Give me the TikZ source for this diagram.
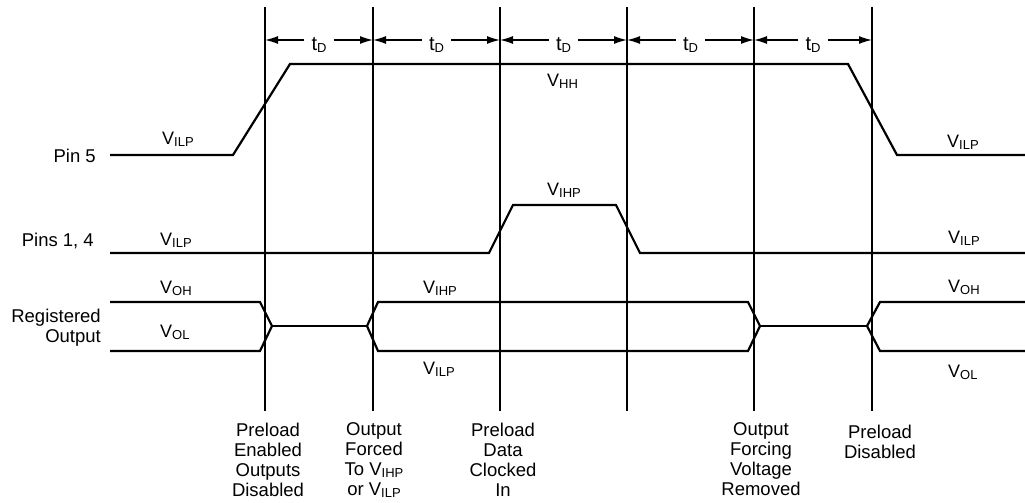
\documentclass[tikz,border=0pt]{standalone}
\usepackage{fontspec}
\setmainfont{Liberation Sans}
\usetikzlibrary{arrows.meta,calc}

% level label: letter with lowered subscript
\newcommand\vsig[2]{#1\raisebox{-2pt}{\fontsize{13}{13}\selectfont #2}}

\begin{document}
\begin{tikzpicture}[x=1pt, y=-1pt,
    sig/.style={line width=2.2pt, line join=miter},
    guide/.style={line width=1.6pt},
    dimarrow/.style={line width=1.4pt, -{Latex[length=13pt, width=8pt]}},
    tdlbl/.style={inner xsep=7pt, inner ysep=0pt, font=\fontsize{20}{20}\selectfont},
    lvl/.style={anchor=base west, inner sep=0pt, font=\fontsize{18}{18}\selectfont},
    pinlbl/.style={inner sep=0pt, align=right, font=\fontsize{18.5}{20}\selectfont},
    evlbl/.style={anchor=north, inner sep=0pt, align=center, font=\fontsize{18.5}{20}\selectfont}]

    \useasboundingbox (0,0) rectangle (1025,503);

    % Event lines
    \foreach \x [count=\i] in {265,373,500,627,754,872} {
        \coordinate (top\i) at (\x,7);
        \coordinate (bot\i) at (\x,411);
        \coordinate (g\i)   at (\x,40);
        \draw[guide] (top\i) -- (bot\i);
    }

    % Delay arrows t_D
    \foreach \i/\j in {1/2,2/3,3/4,4/5,5/6} {
        \node[tdlbl, yshift=-5pt] (td\i) at ($(g\i)!0.5!(g\j)$) {\vsig{t}{D}};
        \draw[dimarrow] (td\i.west |- g\i) -- (g\i);
        \draw[dimarrow] (td\i.east |- g\j) -- (g\j);
    }

    % Pin 5
    \node[pinlbl, anchor=base east] (pin5) at (96,162) {Pin 5};
    \draw[sig] (110,155) -- (233,155) -- (290,64) -- (848,64) -- (897,155) -- (1025,155);
    \node[lvl] (p5l) at (162,144) {\vsig{V}{ILP}};
    \node[lvl] (p5h) at (547,86)  {\vsig{V}{HH}};
    \node[lvl] (p5r) at (947,147) {\vsig{V}{ILP}};

    % Pins 1, 4
    \node[pinlbl, anchor=base east] (pin14) at (94,246) {Pins 1, 4};
    \draw[sig] (110,253) -- (489,253) -- (513,205) -- (616,205) -- (640,253) -- (1025,253);
    \node[lvl] (p14l) at (160,245) {\vsig{V}{ILP}};
    \node[lvl] (p14h) at (547,195) {\vsig{V}{IHP}};
    \node[lvl] (p14r) at (948,243) {\vsig{V}{ILP}};

    % Registered output
    \node[pinlbl, anchor=east] (regout) at (101,328) {Registered\\Output};
    \draw[sig] (110,302) -- (260,302) -- (272,326) -- (260,351) -- (110,351);
    \draw[sig] (272,326) -- (367,326);
    \draw[sig] (367,326) -- (378,302) -- (748,302) -- (760,326) -- (748,351) -- (378,351) -- cycle;
    \draw[sig] (760,326) -- (867,326);
    \draw[sig] (1025,302) -- (880,302) -- (867,326) -- (880,351) -- (1025,351);
    \node[lvl] (rol) at (160,293) {\vsig{V}{OH}};
    \node[lvl] (rll) at (160,337) {\vsig{V}{OL}};
    \node[lvl] (rih) at (423,293) {\vsig{V}{IHP}};
    \node[lvl] (ril) at (423,374) {\vsig{V}{ILP}};
    \node[lvl] (roh) at (948,292) {\vsig{V}{OH}};
    \node[lvl] (rvl) at (948,377) {\vsig{V}{OL}};

    % Event descriptions
    \node[evlbl] (ev1) at (268,423) {Preload\\Enabled\\Outputs\\Disabled};
    \node[evlbl] (ev2) at (374,422) {Output\\Forced\\To \vsig{V}{IHP}\\or \vsig{V}{ILP}};
    \node[evlbl] (ev3) at (503,423) {Preload\\Data\\Clocked\\In};
    \node[evlbl] (ev5) at (761,422) {Output\\Forcing\\Voltage\\Removed};
    \node[evlbl] (ev6) at (880,425) {Preload\\Disabled};
\end{tikzpicture}
\end{document}
